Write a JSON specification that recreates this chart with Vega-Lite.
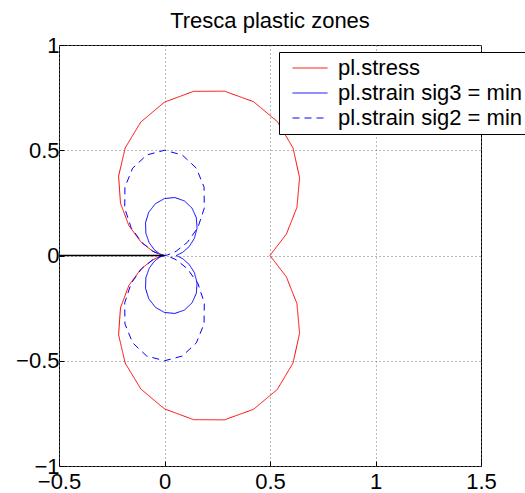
{
  "$schema": "https://vega.github.io/schema/vega-lite/v6.json",
  "width": 422,
  "height": 421,
  "autosize": {"type": "none"},
  "padding": {"left": 59, "top": 45, "right": 44, "bottom": 27},
  "background": "white",
  "title": {"text": "Tresca plastic zones", "font": "Liberation Sans", "fontSize": 22, "fontWeight": "normal", "color": "black", "baseline": "bottom", "offset": 12, "dy": 33, "frame": "group"},
  "config": {
    "view": {"stroke": "black", "strokeWidth": 1},
    "axis": {
      "domain": false,
      "grid": true,
      "gridColor": "#707070",
      "gridDash": [1, 3],
      "gridWidth": 1,
      "ticks": true,
      "tickColor": "black",
      "tickSize": -5,
      "labelFont": "Liberation Sans",
      "labelFontSize": 22,
      "labelColor": "black",
      "labelFlush": false,
      "labelOverlap": false,
      "title": null
    },
    "legend": {
      "orient": "none",
      "legendX": 220,
      "legendY": 7,
      "strokeColor": "black",
      "fillColor": "white",
      "padding": 5,
      "symbolType": "M-3.5,0H3.5",
      "symbolSize": 100,
      "symbolStrokeWidth": 1,
      "symbolOffset": 15,
      "labelOffset": 17,
      "labelLimit": 400,
      "labelFont": "Liberation Sans",
      "labelFontSize": 22,
      "labelColor": "black",
      "rowPadding": 3,
      "title": null
    }
  },
  "datasets": {
    "curves": [
      {"series": "pl.stress", "i": 0, "x": 0, "y": 0},
      {"series": "pl.stress", "i": 1, "x": -0.0149, "y": -0.0026},
      {"series": "pl.stress", "i": 2, "x": -0.0558, "y": -0.0203},
      {"series": "pl.stress", "i": 3, "x": -0.1121, "y": -0.0647},
      {"series": "pl.stress", "i": 4, "x": -0.1686, "y": -0.1415},
      {"series": "pl.stress", "i": 5, "x": -0.2086, "y": -0.2486},
      {"series": "pl.stress", "i": 6, "x": -0.2176, "y": -0.3769},
      {"series": "pl.stress", "i": 7, "x": -0.1862, "y": -0.5115},
      {"series": "pl.stress", "i": 8, "x": -0.1119, "y": -0.6346},
      {"series": "pl.stress", "i": 9, "x": 0, "y": -0.7286},
      {"series": "pl.stress", "i": 10, "x": 0.1375, "y": -0.7798},
      {"series": "pl.stress", "i": 11, "x": 0.2841, "y": -0.7807},
      {"series": "pl.stress", "i": 12, "x": 0.4219, "y": -0.7307},
      {"series": "pl.stress", "i": 13, "x": 0.5343, "y": -0.6367},
      {"series": "pl.stress", "i": 14, "x": 0.6091, "y": -0.5111},
      {"series": "pl.stress", "i": 15, "x": 0.6402, "y": -0.3696},
      {"series": "pl.stress", "i": 16, "x": 0.6277, "y": -0.2285},
      {"series": "pl.stress", "i": 17, "x": 0.5776, "y": -0.1018},
      {"series": "pl.stress", "i": 18, "x": 0.5, "y": 0},
      {"series": "pl.stress", "i": 19, "x": 0.5776, "y": 0.1018},
      {"series": "pl.stress", "i": 20, "x": 0.6277, "y": 0.2285},
      {"series": "pl.stress", "i": 21, "x": 0.6402, "y": 0.3696},
      {"series": "pl.stress", "i": 22, "x": 0.6091, "y": 0.5111},
      {"series": "pl.stress", "i": 23, "x": 0.5343, "y": 0.6367},
      {"series": "pl.stress", "i": 24, "x": 0.4219, "y": 0.7307},
      {"series": "pl.stress", "i": 25, "x": 0.2841, "y": 0.7807},
      {"series": "pl.stress", "i": 26, "x": 0.1375, "y": 0.7798},
      {"series": "pl.stress", "i": 27, "x": 0, "y": 0.7286},
      {"series": "pl.stress", "i": 28, "x": -0.1119, "y": 0.6346},
      {"series": "pl.stress", "i": 29, "x": -0.1862, "y": 0.5115},
      {"series": "pl.stress", "i": 30, "x": -0.2176, "y": 0.3769},
      {"series": "pl.stress", "i": 31, "x": -0.2086, "y": 0.2486},
      {"series": "pl.stress", "i": 32, "x": -0.1686, "y": 0.1415},
      {"series": "pl.stress", "i": 33, "x": -0.1121, "y": 0.0647},
      {"series": "pl.stress", "i": 34, "x": -0.0558, "y": 0.0203},
      {"series": "pl.stress", "i": 35, "x": -0.0149, "y": 0.0026},
      {"series": "pl.stress", "i": 36, "x": 0, "y": 0},

      {"series": "pl.strain sig3 = min", "i": 0, "x": 0, "y": 0},
      {"series": "pl.strain sig3 = min", "i": 1, "x": -0.0066, "y": -0.0012},
      {"series": "pl.strain sig3 = min", "i": 2, "x": -0.0246, "y": -0.0090},
      {"series": "pl.strain sig3 = min", "i": 3, "x": -0.0490, "y": -0.0283},
      {"series": "pl.strain sig3 = min", "i": 4, "x": -0.0726, "y": -0.0609},
      {"series": "pl.strain sig3 = min", "i": 5, "x": -0.0882, "y": -0.1051},
      {"series": "pl.strain sig3 = min", "i": 6, "x": -0.0899, "y": -0.1557},
      {"series": "pl.strain sig3 = min", "i": 7, "x": -0.0747, "y": -0.2053},
      {"series": "pl.strain sig3 = min", "i": 8, "x": -0.0434, "y": -0.2459},
      {"series": "pl.strain sig3 = min", "i": 9, "x": 0, "y": -0.2706},
      {"series": "pl.strain sig3 = min", "i": 10, "x": 0.0485, "y": -0.2753},
      {"series": "pl.strain sig3 = min", "i": 11, "x": 0.0944, "y": -0.2593},
      {"series": "pl.strain sig3 = min", "i": 12, "x": 0.1302, "y": -0.2255},
      {"series": "pl.strain sig3 = min", "i": 13, "x": 0.1508, "y": -0.1798},
      {"series": "pl.strain sig3 = min", "i": 14, "x": 0.1543, "y": -0.1294},
      {"series": "pl.strain sig3 = min", "i": 15, "x": 0.1417, "y": -0.0818},
      {"series": "pl.strain sig3 = min", "i": 16, "x": 0.1171, "y": -0.0426},
      {"series": "pl.strain sig3 = min", "i": 17, "x": 0.0864, "y": -0.0152},
      {"series": "pl.strain sig3 = min", "i": 18, "x": 0.0556, "y": 0},
      {"series": "pl.strain sig3 = min", "i": 19, "x": 0.0864, "y": 0.0152},
      {"series": "pl.strain sig3 = min", "i": 20, "x": 0.1171, "y": 0.0426},
      {"series": "pl.strain sig3 = min", "i": 21, "x": 0.1417, "y": 0.0818},
      {"series": "pl.strain sig3 = min", "i": 22, "x": 0.1543, "y": 0.1294},
      {"series": "pl.strain sig3 = min", "i": 23, "x": 0.1508, "y": 0.1798},
      {"series": "pl.strain sig3 = min", "i": 24, "x": 0.1302, "y": 0.2255},
      {"series": "pl.strain sig3 = min", "i": 25, "x": 0.0944, "y": 0.2593},
      {"series": "pl.strain sig3 = min", "i": 26, "x": 0.0485, "y": 0.2753},
      {"series": "pl.strain sig3 = min", "i": 27, "x": 0, "y": 0.2706},
      {"series": "pl.strain sig3 = min", "i": 28, "x": -0.0434, "y": 0.2459},
      {"series": "pl.strain sig3 = min", "i": 29, "x": -0.0747, "y": 0.2053},
      {"series": "pl.strain sig3 = min", "i": 30, "x": -0.0899, "y": 0.1557},
      {"series": "pl.strain sig3 = min", "i": 31, "x": -0.0882, "y": 0.1051},
      {"series": "pl.strain sig3 = min", "i": 32, "x": -0.0726, "y": 0.0609},
      {"series": "pl.strain sig3 = min", "i": 33, "x": -0.0490, "y": 0.0283},
      {"series": "pl.strain sig3 = min", "i": 34, "x": -0.0246, "y": 0.0090},
      {"series": "pl.strain sig3 = min", "i": 35, "x": -0.0066, "y": 0.0012},
      {"series": "pl.strain sig3 = min", "i": 36, "x": 0, "y": 0},

      {"series": "pl.strain sig2 = min", "i": 0, "x": 0, "y": 0},
      {"series": "pl.strain sig2 = min", "i": 1, "x": -0.0149, "y": -0.0026},
      {"series": "pl.strain sig2 = min", "i": 2, "x": -0.0550, "y": -0.0200},
      {"series": "pl.strain sig2 = min", "i": 3, "x": -0.1083, "y": -0.0625},
      {"series": "pl.strain sig2 = min", "i": 4, "x": -0.1583, "y": -0.1328},
      {"series": "pl.strain sig2 = min", "i": 5, "x": -0.1886, "y": -0.2248},
      {"series": "pl.strain sig2 = min", "i": 6, "x": -0.1875, "y": -0.3248},
      {"series": "pl.strain sig2 = min", "i": 7, "x": -0.1510, "y": -0.4149},
      {"series": "pl.strain sig2 = min", "i": 8, "x": -0.0842, "y": -0.4776},
      {"series": "pl.strain sig2 = min", "i": 9, "x": 0, "y": -0.5},
      {"series": "pl.strain sig2 = min", "i": 10, "x": 0.0842, "y": -0.4776},
      {"series": "pl.strain sig2 = min", "i": 11, "x": 0.1510, "y": -0.4149},
      {"series": "pl.strain sig2 = min", "i": 12, "x": 0.1875, "y": -0.3248},
      {"series": "pl.strain sig2 = min", "i": 13, "x": 0.1886, "y": -0.2248},
      {"series": "pl.strain sig2 = min", "i": 14, "x": 0.1583, "y": -0.1328},
      {"series": "pl.strain sig2 = min", "i": 15, "x": 0.1083, "y": -0.0625},
      {"series": "pl.strain sig2 = min", "i": 16, "x": 0.0550, "y": -0.0200},
      {"series": "pl.strain sig2 = min", "i": 17, "x": 0.0149, "y": -0.0026},
      {"series": "pl.strain sig2 = min", "i": 18, "x": 0, "y": 0},
      {"series": "pl.strain sig2 = min", "i": 19, "x": 0.0149, "y": 0.0026},
      {"series": "pl.strain sig2 = min", "i": 20, "x": 0.0550, "y": 0.0200},
      {"series": "pl.strain sig2 = min", "i": 21, "x": 0.1083, "y": 0.0625},
      {"series": "pl.strain sig2 = min", "i": 22, "x": 0.1583, "y": 0.1328},
      {"series": "pl.strain sig2 = min", "i": 23, "x": 0.1886, "y": 0.2248},
      {"series": "pl.strain sig2 = min", "i": 24, "x": 0.1875, "y": 0.3248},
      {"series": "pl.strain sig2 = min", "i": 25, "x": 0.1510, "y": 0.4149},
      {"series": "pl.strain sig2 = min", "i": 26, "x": 0.0842, "y": 0.4776},
      {"series": "pl.strain sig2 = min", "i": 27, "x": 0, "y": 0.5},
      {"series": "pl.strain sig2 = min", "i": 28, "x": -0.0842, "y": 0.4776},
      {"series": "pl.strain sig2 = min", "i": 29, "x": -0.1510, "y": 0.4149},
      {"series": "pl.strain sig2 = min", "i": 30, "x": -0.1875, "y": 0.3248},
      {"series": "pl.strain sig2 = min", "i": 31, "x": -0.1886, "y": 0.2248},
      {"series": "pl.strain sig2 = min", "i": 32, "x": -0.1583, "y": 0.1328},
      {"series": "pl.strain sig2 = min", "i": 33, "x": -0.1083, "y": 0.0625},
      {"series": "pl.strain sig2 = min", "i": 34, "x": -0.0550, "y": 0.0200},
      {"series": "pl.strain sig2 = min", "i": 35, "x": -0.0149, "y": 0.0026},
      {"series": "pl.strain sig2 = min", "i": 36, "x": 0, "y": 0}
    ],
    "crack": [
      {"x": -0.5, "y": 0},
      {"x": 0, "y": 0}
    ]
  },
  "layer": [
    {
      "data": {"name": "curves"},
      "mark": {"type": "line", "strokeWidth": 1, "clip": true},
      "encoding": {
        "x": {"field": "x", "type": "quantitative", "scale": {"domain": [-0.5, 1.5], "nice": false, "zero": false}, "axis": {"values": [-0.5, 0, 0.5, 1, 1.5], "format": "~g", "labelPadding": 10}},
        "y": {"field": "y", "type": "quantitative", "scale": {"domain": [-1, 1], "nice": false, "zero": false}, "axis": {"values": [-1, -0.5, 0, 0.5, 1], "format": "~g", "labelPadding": 5}},
        "color": {"field": "series", "type": "nominal", "scale": {"domain": ["pl.stress", "pl.strain sig3 = min", "pl.strain sig2 = min"], "range": ["#ff0000", "#0000ff", "#0000ff"]}},
        "strokeDash": {"field": "series", "type": "nominal", "scale": {"domain": ["pl.stress", "pl.strain sig3 = min", "pl.strain sig2 = min"], "range": [[1, 0], [1, 0], [7, 5]]}},
        "order": {"field": "i", "type": "quantitative"}
      }
    },
    {
      "data": {"name": "crack"},
      "mark": {"type": "line", "color": "black", "strokeWidth": 1.3},
      "encoding": {
        "x": {"field": "x", "type": "quantitative"},
        "y": {"field": "y", "type": "quantitative"}
      }
    }
  ]
}
